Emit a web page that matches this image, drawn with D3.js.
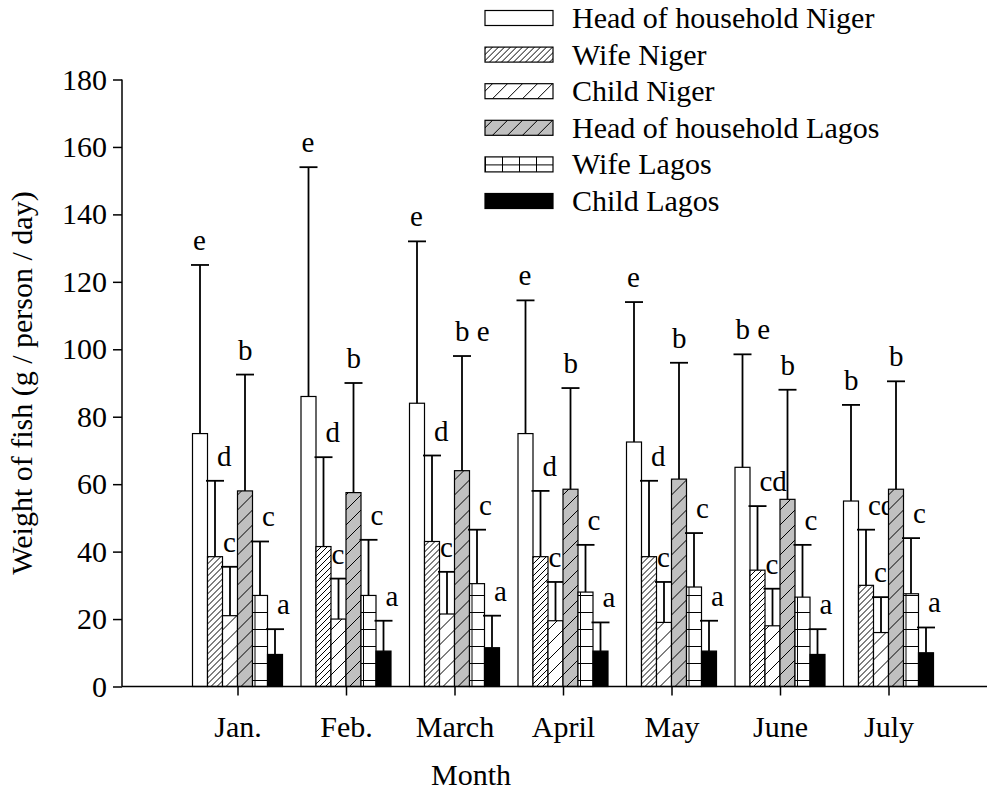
<!DOCTYPE html>
<html>
<head>
<meta charset="utf-8">
<script src="https://cdn.jsdelivr.net/npm/d3@7"></script>
<style>
  body { margin: 0; background: #fff; }
  svg text { font-family: "Liberation Serif", "Times New Roman", Times, "DejaVu Serif", serif; fill: #000; }
</style>
</head>
<body>
<script>
var months = ["Jan.", "Feb.", "March", "April", "May", "June", "July"];
var seriesNames = ["Head of household Niger", "Wife Niger", "Child Niger",
                   "Head of household Lagos", "Wife Lagos", "Child Lagos"];
var yTicks = [0, 20, 40, 60, 80, 100, 120, 140, 160, 180];

// means (g / person / day)
var headNiger  = [75, 86, 84, 75, 72.5, 65, 55];
var wifeNiger  = [38.5, 41.5, 43, 38.5, 38.5, 34.5, 30];
var childNiger = [21, 20, 21.5, 19.5, 19, 18, 16];
var headLagos  = [58, 57.5, 64, 58.5, 61.5, 55.5, 58.5];
var wifeLagos  = [27, 27, 30.5, 28, 29.5, 26.5, 27.5];
var childLagos = [9.5, 10.5, 11.5, 10.5, 10.5, 9.5, 10];

// standard deviations (upper error bars)
var headNigerSd  = [50, 68, 48, 39.5, 41.5, 33.5, 28.5];
var wifeNigerSd  = [22.5, 26.5, 25.5, 19.5, 22.5, 19, 16.5];
var childNigerSd = [14.5, 12, 12.5, 11.5, 12, 11, 10.5];
var headLagosSd  = [34.5, 32.5, 34, 30, 34.5, 32.5, 32];
var wifeLagosSd  = [16, 16.5, 16, 14, 16, 15.5, 16.5];
var childLagosSd = [7.5, 9, 9.5, 8.5, 9, 7.5, 7.5];

// significance letters
var headNigerLet  = ["e", "e", "e", "e", "e", "b e", "b"];
var wifeNigerLet  = ["d", "d", "d", "d", "d", "cd", "cd"];
var childNigerLet = ["c", "c", "c", "c", "c", "c", "c"];
var headLagosLet  = ["b", "b", "b e", "b", "b", "b", "b"];
var wifeLagosLet  = ["c", "c", "c", "c", "c", "c", "c"];
var childLagosLet = ["a", "a", "a", "a", "a", "a", "a"];

var means = [headNiger, wifeNiger, childNiger, headLagos, wifeLagos, childLagos];
var sds = [headNigerSd, wifeNigerSd, childNigerSd, headLagosSd, wifeLagosSd, childLagosSd];
var letters = [headNigerLet, wifeNigerLet, childNigerLet, headLagosLet, wifeLagosLet, childLagosLet];
var fills = ["#fff", "url(#hatchDense)", "url(#hatchSparse)", "url(#hatchGray)", "url(#grid)", "#000"];
var labelSide = [0, 1, 0, 0, 1, 1]; // 0: over the bar, 1: right of the error line

var W = 987, H = 792;
var serif = "'Liberation Serif', 'Times New Roman', Times, 'DejaVu Serif', serif";

var svg = d3.select("body").append("svg")
    .attr("width", W)
    .attr("height", H)
    .attr("font-family", serif);

var defs = svg.append("defs");

function hatch(id, size, bg) {
  var p = defs.append("pattern")
      .attr("id", id)
      .attr("patternUnits", "userSpaceOnUse")
      .attr("width", size)
      .attr("height", size);
  p.append("rect").attr("width", size).attr("height", size).attr("fill", bg);
  p.append("path")
      .attr("d", "M0," + size + " L" + size + ",0 M-2,2 L2,-2 M" + (size - 2) + "," + (size + 2) + " L" + (size + 2) + "," + (size - 2))
      .attr("stroke", "#000")
      .attr("stroke-width", 1);
}
hatch("hatchDense", 6, "#fff");
hatch("hatchSparse", 15, "#fff");
hatch("hatchGray", 15, "#c0c0c0");

var grid = defs.append("pattern")
    .attr("id", "grid")
    .attr("patternUnits", "userSpaceOnUse")
    .attr("width", 17)
    .attr("height", 17);
grid.append("rect").attr("width", 17).attr("height", 17).attr("fill", "#fff");
grid.append("path")
    .attr("d", "M0,0.5 H17 M0.5,0 V17")
    .attr("stroke", "#000")
    .attr("stroke-width", 1);

var axisX = 122;

var x = d3.scaleLinear()
    .domain([0, 8])
    .range([129, 997]);

var inner = d3.scaleBand()
    .domain(d3.range(seriesNames.length))
    .range([-45, 45]);

var y = d3.scaleLinear()
    .domain([0, 180])
    .range([686.5, 79.5]);

// bars
var groups = svg.append("g").selectAll("g")
    .data(months)
    .enter().append("g")
    .attr("transform", function (d, i) { return "translate(" + x(i + 1) + ",0)"; });

seriesNames.forEach(function (name, s) {
  var bx = inner(s), bw = inner.bandwidth();
  groups.append("rect")
      .attr("x", bx)
      .attr("y", function (d, i) { return y(means[s][i]); })
      .attr("width", bw)
      .attr("height", function (d, i) { return y(0) - y(means[s][i]); })
      .attr("fill", fills[s])
      .attr("stroke", "#000")
      .attr("stroke-width", 1.2);

  var cx = bx + bw / 2;
  groups.append("line")
      .attr("x1", cx).attr("x2", cx)
      .attr("y1", function (d, i) { return y(means[s][i]); })
      .attr("y2", function (d, i) { return y(means[s][i] + sds[s][i]); })
      .attr("stroke", "#000")
      .attr("stroke-width", 1.8);
  groups.append("line")
      .attr("x1", cx - 9).attr("x2", cx + 9)
      .attr("y1", function (d, i) { return y(means[s][i] + sds[s][i]); })
      .attr("y2", function (d, i) { return y(means[s][i] + sds[s][i]); })
      .attr("stroke", "#000")
      .attr("stroke-width", 1.8);

  groups.append("text")
      .attr("x", labelSide[s] ? cx + 2 : cx - 7)
      .attr("y", function (d, i) { return y(means[s][i] + sds[s][i]) - 15; })
      .attr("font-family", serif)
      .style("font-size", "29px")
      .text(function (d, i) { return letters[s][i]; });
});

// y axis
var yAxis = d3.axisLeft(y)
    .tickValues(yTicks)
    .tickSize(9)
    .tickPadding(6);

var yg = svg.append("g")
    .attr("transform", "translate(" + axisX + ",0)")
    .call(yAxis)
    .attr("font-family", serif);
yg.select(".domain").attr("d", "M0," + y(180) + "V" + y(0)).attr("stroke-width", 1.5);
yg.selectAll(".tick line").attr("stroke-width", 1.5);
yg.selectAll("text").style("font-size", "30px");

// x axis
var xAxis = d3.axisBottom(x)
    .tickValues(d3.range(1, months.length + 1))
    .tickFormat(function (d) { return months[d - 1]; })
    .tickSize(9)
    .tickPadding(20);

var xg = svg.append("g")
    .attr("transform", "translate(0," + y(0) + ")")
    .call(xAxis)
    .attr("font-family", serif);
xg.select(".domain").attr("d", "M" + axisX + ",0H" + W).attr("stroke-width", 1.5);
xg.selectAll(".tick line").attr("stroke-width", 1.5);
xg.selectAll("text").style("font-size", "30px");

// axis titles
svg.append("text")
    .attr("x", 471)
    .attr("y", 785)
    .style("text-anchor", "middle")
    .style("font-size", "30px")
    .text("Month");

svg.append("text")
    .attr("transform", "translate(32," + ((y(0) + y(180)) / 2) + ") rotate(-90)")
    .style("text-anchor", "middle")
    .style("font-size", "30px")
    .text("Weight of fish (g / person / day)");

// legend
var legend = svg.append("g").selectAll("g")
    .data(seriesNames)
    .enter().append("g")
    .attr("transform", function (d, i) { return "translate(485," + (18 + i * 36.6) + ")"; });

legend.append("rect")
    .attr("x", 0)
    .attr("y", -7.5)
    .attr("width", 68)
    .attr("height", 15)
    .attr("fill", function (d, i) { return fills[i]; })
    .attr("stroke", "#000")
    .attr("stroke-width", 1.2);

legend.append("text")
    .attr("x", 87)
    .attr("y", 10)
    .style("font-size", "30px")
    .text(function (d) { return d; });
</script>
</body>
</html>
